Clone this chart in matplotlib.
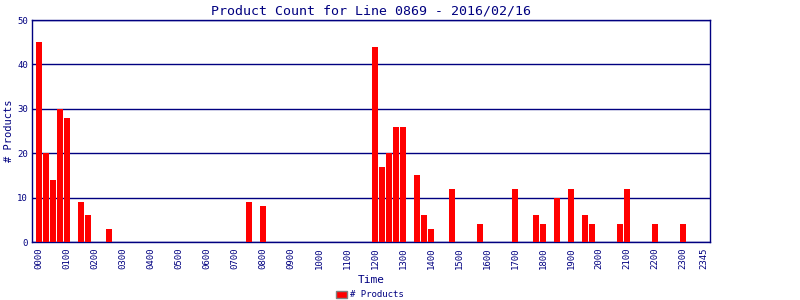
import numpy as np
import matplotlib
matplotlib.use('Agg')
import matplotlib.pyplot as plt
from matplotlib.patches import Patch

# 15-minute slots over the day, 0000 .. 2345
slots = ['%02d%02d' % (h, m) for h in range(24) for m in (0, 15, 30, 45)]

# non-zero counts, keyed by slot label
counts_read = {
    '0000': 45, '0015': 20, '0030': 14, '0045': 30, '0100': 28,
    '0130': 9, '0145': 6, '0230': 3,
    '0730': 9, '0800': 8,
    '1200': 44, '1215': 17, '1230': 20, '1245': 26, '1300': 26,
    '1330': 15, '1345': 6, '1400': 3, '1445': 12, '1545': 4,
    '1700': 12, '1745': 6, '1800': 4, '1830': 10, '1900': 12,
    '1930': 6, '1945': 4, '2045': 4, '2100': 12, '2200': 4, '2300': 4,
}
counts = [counts_read.get(s, 0) for s in slots]

tick_labels = ['%02d00' % h for h in range(24)] + ['2345']
tick_pos = [slots.index(t) for t in tick_labels]

navy = '#000080'
plt.rcParams['font.family'] = ['DejaVu Sans Mono']

fig = plt.figure(figsize=(8, 3), dpi=100)
ax = fig.add_axes([0.04, 0.1933, 0.8475, 0.74])

x = np.arange(len(slots))
ax.bar(x, counts, width=0.86, color='red', zorder=3)

ax.set_xlim(-1, 95.86)
ax.set_ylim(0, 50)
ax.set_yticks([0, 10, 20, 30, 40, 50])
ax.set_xticks(tick_pos)
ax.set_xticklabels(tick_labels, rotation=90, fontsize=6.5, color=navy)
ax.tick_params(axis='y', labelsize=6.5, labelcolor=navy, length=0, pad=3)
ax.tick_params(axis='x', length=0, pad=4)
ax.yaxis.grid(True, color=navy, linewidth=1, zorder=1)
for sp in ax.spines.values():
    sp.set_color(navy)
    sp.set_linewidth(1)

ax.set_title('Product Count for Line 0869 - 2016/02/16', fontsize=9.5, color=navy, pad=4)
ax.set_ylabel('# Products', fontsize=7.5, color=navy, labelpad=2)
ax.set_xlabel('Time', fontsize=8, color=navy, labelpad=4)

fig.legend(handles=[Patch(facecolor='red', edgecolor='grey', label='# Products')],
           loc='center', bbox_to_anchor=(0.4625, 0.017), frameon=False,
           fontsize=6.5, labelcolor=navy, handlelength=1.2, handleheight=0.8,
           handletextpad=0.3)

fig.savefig('out.png', dpi=100)
